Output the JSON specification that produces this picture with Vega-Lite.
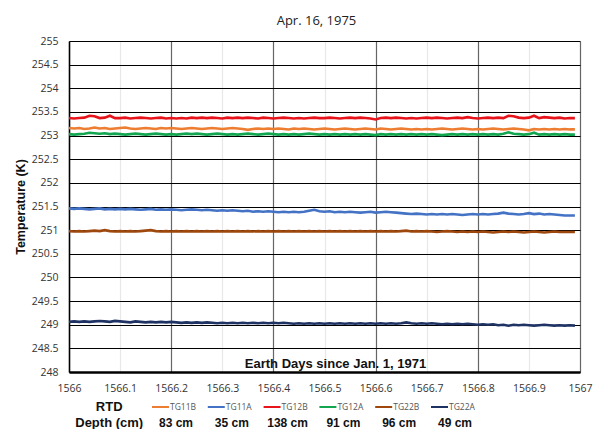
{
"$schema":"https://vega.github.io/schema/vega-lite/v6.json",
"autosize":{"type":"pad"},
"padding":{"left":14,"top":15,"right":0,"bottom":0},
"background":"white",
"bounds":"flush",
"spacing":27,
"config":{"view":{"stroke":null},"font":"Open Sans"},
"datasets":{
"TG12B":[{"x":1566,"t":253.37},{"x":1566.01,"t":253.36},{"x":1566.02,"t":253.37},{"x":1566.03,"t":253.38},{"x":1566.04,"t":253.42},{"x":1566.05,"t":253.41},{"x":1566.06,"t":253.37},{"x":1566.07,"t":253.38},{"x":1566.08,"t":253.42},{"x":1566.09,"t":253.37},{"x":1566.1,"t":253.37},{"x":1566.11,"t":253.38},{"x":1566.12,"t":253.36},{"x":1566.13,"t":253.37},{"x":1566.14,"t":253.38},{"x":1566.15,"t":253.37},{"x":1566.16,"t":253.36},{"x":1566.17,"t":253.37},{"x":1566.18,"t":253.38},{"x":1566.19,"t":253.36},{"x":1566.2,"t":253.37},{"x":1566.21,"t":253.36},{"x":1566.22,"t":253.37},{"x":1566.23,"t":253.36},{"x":1566.24,"t":253.38},{"x":1566.25,"t":253.37},{"x":1566.26,"t":253.38},{"x":1566.27,"t":253.37},{"x":1566.28,"t":253.38},{"x":1566.29,"t":253.37},{"x":1566.3,"t":253.36},{"x":1566.31,"t":253.38},{"x":1566.32,"t":253.37},{"x":1566.33,"t":253.38},{"x":1566.34,"t":253.37},{"x":1566.35,"t":253.38},{"x":1566.36,"t":253.37},{"x":1566.37,"t":253.36},{"x":1566.38,"t":253.38},{"x":1566.39,"t":253.37},{"x":1566.4,"t":253.36},{"x":1566.41,"t":253.37},{"x":1566.42,"t":253.38},{"x":1566.43,"t":253.37},{"x":1566.44,"t":253.36},{"x":1566.45,"t":253.37},{"x":1566.46,"t":253.36},{"x":1566.47,"t":253.37},{"x":1566.48,"t":253.38},{"x":1566.49,"t":253.37},{"x":1566.5,"t":253.37},{"x":1566.51,"t":253.38},{"x":1566.52,"t":253.37},{"x":1566.53,"t":253.36},{"x":1566.54,"t":253.37},{"x":1566.55,"t":253.38},{"x":1566.56,"t":253.37},{"x":1566.57,"t":253.38},{"x":1566.58,"t":253.37},{"x":1566.59,"t":253.36},{"x":1566.6,"t":253.34},{"x":1566.61,"t":253.37},{"x":1566.62,"t":253.38},{"x":1566.63,"t":253.37},{"x":1566.64,"t":253.38},{"x":1566.65,"t":253.37},{"x":1566.66,"t":253.36},{"x":1566.67,"t":253.37},{"x":1566.68,"t":253.36},{"x":1566.69,"t":253.37},{"x":1566.7,"t":253.38},{"x":1566.71,"t":253.37},{"x":1566.72,"t":253.38},{"x":1566.73,"t":253.37},{"x":1566.74,"t":253.36},{"x":1566.75,"t":253.37},{"x":1566.76,"t":253.38},{"x":1566.77,"t":253.37},{"x":1566.78,"t":253.39},{"x":1566.79,"t":253.37},{"x":1566.8,"t":253.36},{"x":1566.81,"t":253.37},{"x":1566.82,"t":253.38},{"x":1566.83,"t":253.37},{"x":1566.84,"t":253.38},{"x":1566.85,"t":253.37},{"x":1566.86,"t":253.42},{"x":1566.87,"t":253.41},{"x":1566.88,"t":253.38},{"x":1566.89,"t":253.37},{"x":1566.9,"t":253.38},{"x":1566.91,"t":253.42},{"x":1566.92,"t":253.37},{"x":1566.93,"t":253.39},{"x":1566.94,"t":253.38},{"x":1566.95,"t":253.37},{"x":1566.96,"t":253.38},{"x":1566.97,"t":253.36},{"x":1566.98,"t":253.37},{"x":1566.99,"t":253.37}],
"TG11B":[{"x":1566,"t":253.16},{"x":1566.01,"t":253.15},{"x":1566.02,"t":253.16},{"x":1566.03,"t":253.14},{"x":1566.04,"t":253.15},{"x":1566.05,"t":253.17},{"x":1566.06,"t":253.15},{"x":1566.07,"t":253.16},{"x":1566.08,"t":253.14},{"x":1566.09,"t":253.15},{"x":1566.1,"t":253.16},{"x":1566.11,"t":253.17},{"x":1566.12,"t":253.15},{"x":1566.13,"t":253.14},{"x":1566.14,"t":253.15},{"x":1566.15,"t":253.16},{"x":1566.16,"t":253.15},{"x":1566.17,"t":253.14},{"x":1566.18,"t":253.16},{"x":1566.19,"t":253.15},{"x":1566.2,"t":253.16},{"x":1566.21,"t":253.15},{"x":1566.22,"t":253.14},{"x":1566.23,"t":253.15},{"x":1566.24,"t":253.16},{"x":1566.25,"t":253.15},{"x":1566.26,"t":253.14},{"x":1566.27,"t":253.15},{"x":1566.28,"t":253.16},{"x":1566.29,"t":253.15},{"x":1566.3,"t":253.14},{"x":1566.31,"t":253.15},{"x":1566.32,"t":253.16},{"x":1566.33,"t":253.15},{"x":1566.34,"t":253.14},{"x":1566.35,"t":253.12},{"x":1566.36,"t":253.14},{"x":1566.37,"t":253.15},{"x":1566.38,"t":253.14},{"x":1566.39,"t":253.15},{"x":1566.4,"t":253.14},{"x":1566.41,"t":253.15},{"x":1566.42,"t":253.14},{"x":1566.43,"t":253.13},{"x":1566.44,"t":253.15},{"x":1566.45,"t":253.14},{"x":1566.46,"t":253.15},{"x":1566.47,"t":253.14},{"x":1566.48,"t":253.13},{"x":1566.49,"t":253.14},{"x":1566.5,"t":253.15},{"x":1566.51,"t":253.14},{"x":1566.52,"t":253.13},{"x":1566.53,"t":253.14},{"x":1566.54,"t":253.15},{"x":1566.55,"t":253.14},{"x":1566.56,"t":253.13},{"x":1566.57,"t":253.14},{"x":1566.58,"t":253.15},{"x":1566.59,"t":253.14},{"x":1566.6,"t":253.13},{"x":1566.61,"t":253.15},{"x":1566.62,"t":253.14},{"x":1566.63,"t":253.13},{"x":1566.64,"t":253.14},{"x":1566.65,"t":253.15},{"x":1566.66,"t":253.14},{"x":1566.67,"t":253.13},{"x":1566.68,"t":253.14},{"x":1566.69,"t":253.13},{"x":1566.7,"t":253.14},{"x":1566.71,"t":253.13},{"x":1566.72,"t":253.14},{"x":1566.73,"t":253.15},{"x":1566.74,"t":253.14},{"x":1566.75,"t":253.13},{"x":1566.76,"t":253.14},{"x":1566.77,"t":253.15},{"x":1566.78,"t":253.14},{"x":1566.79,"t":253.13},{"x":1566.8,"t":253.14},{"x":1566.81,"t":253.13},{"x":1566.82,"t":253.14},{"x":1566.83,"t":253.15},{"x":1566.84,"t":253.14},{"x":1566.85,"t":253.13},{"x":1566.86,"t":253.14},{"x":1566.87,"t":253.15},{"x":1566.88,"t":253.14},{"x":1566.89,"t":253.13},{"x":1566.9,"t":253.11},{"x":1566.91,"t":253.14},{"x":1566.92,"t":253.13},{"x":1566.93,"t":253.14},{"x":1566.94,"t":253.13},{"x":1566.95,"t":253.14},{"x":1566.96,"t":253.13},{"x":1566.97,"t":253.14},{"x":1566.98,"t":253.13},{"x":1566.99,"t":253.13}],
"TG12A":[{"x":1566,"t":253.03},{"x":1566.01,"t":253.02},{"x":1566.02,"t":253.03},{"x":1566.03,"t":253.04},{"x":1566.04,"t":253.06},{"x":1566.05,"t":253.05},{"x":1566.06,"t":253.04},{"x":1566.07,"t":253.05},{"x":1566.08,"t":253.03},{"x":1566.09,"t":253.04},{"x":1566.1,"t":253.03},{"x":1566.11,"t":253.02},{"x":1566.12,"t":253.03},{"x":1566.13,"t":253.04},{"x":1566.14,"t":253.03},{"x":1566.15,"t":253.02},{"x":1566.16,"t":253.03},{"x":1566.17,"t":253.04},{"x":1566.18,"t":253.03},{"x":1566.19,"t":253.02},{"x":1566.2,"t":253.03},{"x":1566.21,"t":253.02},{"x":1566.22,"t":253.03},{"x":1566.23,"t":253.04},{"x":1566.24,"t":253.03},{"x":1566.25,"t":253.04},{"x":1566.26,"t":253.03},{"x":1566.27,"t":253.02},{"x":1566.28,"t":253.03},{"x":1566.29,"t":253.04},{"x":1566.3,"t":253.03},{"x":1566.31,"t":253.02},{"x":1566.32,"t":253.03},{"x":1566.33,"t":253.02},{"x":1566.34,"t":253.03},{"x":1566.35,"t":253.04},{"x":1566.36,"t":253.03},{"x":1566.37,"t":253.02},{"x":1566.38,"t":253.03},{"x":1566.39,"t":253.04},{"x":1566.4,"t":253.03},{"x":1566.41,"t":253.02},{"x":1566.42,"t":253.03},{"x":1566.43,"t":253.02},{"x":1566.44,"t":253.03},{"x":1566.45,"t":253.02},{"x":1566.46,"t":253.03},{"x":1566.47,"t":253.04},{"x":1566.48,"t":253.03},{"x":1566.49,"t":253.02},{"x":1566.5,"t":253.03},{"x":1566.51,"t":253.02},{"x":1566.52,"t":253.03},{"x":1566.53,"t":253.02},{"x":1566.54,"t":253.03},{"x":1566.55,"t":253.02},{"x":1566.56,"t":253.03},{"x":1566.57,"t":253.02},{"x":1566.58,"t":253.03},{"x":1566.59,"t":253.02},{"x":1566.6,"t":253.01},{"x":1566.61,"t":253.03},{"x":1566.62,"t":253.02},{"x":1566.63,"t":253.03},{"x":1566.64,"t":253.02},{"x":1566.65,"t":253.03},{"x":1566.66,"t":253.02},{"x":1566.67,"t":253.03},{"x":1566.68,"t":253.02},{"x":1566.69,"t":253.03},{"x":1566.7,"t":253.02},{"x":1566.71,"t":253.03},{"x":1566.72,"t":253.02},{"x":1566.73,"t":253.01},{"x":1566.74,"t":253.02},{"x":1566.75,"t":253.03},{"x":1566.76,"t":253.02},{"x":1566.77,"t":253.03},{"x":1566.78,"t":253.02},{"x":1566.79,"t":253.03},{"x":1566.8,"t":253.02},{"x":1566.81,"t":253.03},{"x":1566.82,"t":253.02},{"x":1566.83,"t":253.03},{"x":1566.84,"t":253.02},{"x":1566.85,"t":253.04},{"x":1566.86,"t":253.07},{"x":1566.87,"t":253.04},{"x":1566.88,"t":253.03},{"x":1566.89,"t":253.02},{"x":1566.9,"t":253.03},{"x":1566.91,"t":253.06},{"x":1566.92,"t":253.02},{"x":1566.93,"t":253.03},{"x":1566.94,"t":253.02},{"x":1566.95,"t":253.03},{"x":1566.96,"t":253.02},{"x":1566.97,"t":253.03},{"x":1566.98,"t":253.02},{"x":1566.99,"t":253.02}],
"TG11A":[{"x":1566,"t":251.46},{"x":1566.01,"t":251.45},{"x":1566.02,"t":251.46},{"x":1566.03,"t":251.45},{"x":1566.04,"t":251.44},{"x":1566.05,"t":251.45},{"x":1566.06,"t":251.46},{"x":1566.07,"t":251.44},{"x":1566.08,"t":251.45},{"x":1566.09,"t":251.44},{"x":1566.1,"t":251.45},{"x":1566.11,"t":251.44},{"x":1566.12,"t":251.45},{"x":1566.13,"t":251.44},{"x":1566.14,"t":251.43},{"x":1566.15,"t":251.44},{"x":1566.16,"t":251.45},{"x":1566.17,"t":251.43},{"x":1566.18,"t":251.44},{"x":1566.19,"t":251.43},{"x":1566.2,"t":251.44},{"x":1566.21,"t":251.43},{"x":1566.22,"t":251.42},{"x":1566.23,"t":251.43},{"x":1566.24,"t":251.44},{"x":1566.25,"t":251.43},{"x":1566.26,"t":251.42},{"x":1566.27,"t":251.43},{"x":1566.28,"t":251.42},{"x":1566.29,"t":251.41},{"x":1566.3,"t":251.42},{"x":1566.31,"t":251.41},{"x":1566.32,"t":251.42},{"x":1566.33,"t":251.41},{"x":1566.34,"t":251.4},{"x":1566.35,"t":251.41},{"x":1566.36,"t":251.39},{"x":1566.37,"t":251.4},{"x":1566.38,"t":251.39},{"x":1566.39,"t":251.4},{"x":1566.4,"t":251.39},{"x":1566.41,"t":251.38},{"x":1566.42,"t":251.39},{"x":1566.43,"t":251.38},{"x":1566.44,"t":251.39},{"x":1566.45,"t":251.38},{"x":1566.46,"t":251.39},{"x":1566.47,"t":251.41},{"x":1566.48,"t":251.43},{"x":1566.49,"t":251.4},{"x":1566.5,"t":251.39},{"x":1566.51,"t":251.4},{"x":1566.52,"t":251.38},{"x":1566.53,"t":251.39},{"x":1566.54,"t":251.38},{"x":1566.55,"t":251.39},{"x":1566.56,"t":251.38},{"x":1566.57,"t":251.37},{"x":1566.58,"t":251.38},{"x":1566.59,"t":251.39},{"x":1566.6,"t":251.37},{"x":1566.61,"t":251.38},{"x":1566.62,"t":251.39},{"x":1566.63,"t":251.38},{"x":1566.64,"t":251.37},{"x":1566.65,"t":251.36},{"x":1566.66,"t":251.35},{"x":1566.67,"t":251.34},{"x":1566.68,"t":251.35},{"x":1566.69,"t":251.34},{"x":1566.7,"t":251.33},{"x":1566.71,"t":251.34},{"x":1566.72,"t":251.33},{"x":1566.73,"t":251.34},{"x":1566.74,"t":251.33},{"x":1566.75,"t":251.34},{"x":1566.76,"t":251.33},{"x":1566.77,"t":251.32},{"x":1566.78,"t":251.33},{"x":1566.79,"t":251.34},{"x":1566.8,"t":251.33},{"x":1566.81,"t":251.34},{"x":1566.82,"t":251.33},{"x":1566.83,"t":251.34},{"x":1566.84,"t":251.35},{"x":1566.85,"t":251.37},{"x":1566.86,"t":251.35},{"x":1566.87,"t":251.34},{"x":1566.88,"t":251.33},{"x":1566.89,"t":251.34},{"x":1566.9,"t":251.36},{"x":1566.91,"t":251.34},{"x":1566.92,"t":251.35},{"x":1566.93,"t":251.33},{"x":1566.94,"t":251.34},{"x":1566.95,"t":251.33},{"x":1566.96,"t":251.32},{"x":1566.97,"t":251.31},{"x":1566.98,"t":251.31},{"x":1566.99,"t":251.31}],
"TG22B":[{"x":1566,"t":250.98},{"x":1566.01,"t":250.97},{"x":1566.02,"t":250.98},{"x":1566.03,"t":250.97},{"x":1566.04,"t":250.98},{"x":1566.05,"t":250.99},{"x":1566.06,"t":250.98},{"x":1566.07,"t":251},{"x":1566.08,"t":250.98},{"x":1566.09,"t":250.97},{"x":1566.1,"t":250.98},{"x":1566.11,"t":250.97},{"x":1566.12,"t":250.98},{"x":1566.13,"t":250.97},{"x":1566.14,"t":250.98},{"x":1566.15,"t":250.99},{"x":1566.16,"t":251},{"x":1566.17,"t":250.98},{"x":1566.18,"t":250.97},{"x":1566.19,"t":250.98},{"x":1566.2,"t":250.97},{"x":1566.21,"t":250.98},{"x":1566.22,"t":250.97},{"x":1566.23,"t":250.98},{"x":1566.24,"t":250.97},{"x":1566.25,"t":250.98},{"x":1566.26,"t":250.97},{"x":1566.27,"t":250.98},{"x":1566.28,"t":250.97},{"x":1566.29,"t":250.98},{"x":1566.3,"t":250.97},{"x":1566.31,"t":250.98},{"x":1566.32,"t":250.97},{"x":1566.33,"t":250.98},{"x":1566.34,"t":250.97},{"x":1566.35,"t":250.98},{"x":1566.36,"t":250.97},{"x":1566.37,"t":250.98},{"x":1566.38,"t":250.97},{"x":1566.39,"t":250.98},{"x":1566.4,"t":250.97},{"x":1566.41,"t":250.98},{"x":1566.42,"t":250.97},{"x":1566.43,"t":250.98},{"x":1566.44,"t":250.97},{"x":1566.45,"t":250.98},{"x":1566.46,"t":250.97},{"x":1566.47,"t":250.98},{"x":1566.48,"t":250.97},{"x":1566.49,"t":250.98},{"x":1566.5,"t":250.97},{"x":1566.51,"t":250.98},{"x":1566.52,"t":250.97},{"x":1566.53,"t":250.98},{"x":1566.54,"t":250.97},{"x":1566.55,"t":250.98},{"x":1566.56,"t":250.97},{"x":1566.57,"t":250.98},{"x":1566.58,"t":250.97},{"x":1566.59,"t":250.98},{"x":1566.6,"t":250.97},{"x":1566.61,"t":250.98},{"x":1566.62,"t":250.97},{"x":1566.63,"t":250.98},{"x":1566.64,"t":250.97},{"x":1566.65,"t":250.98},{"x":1566.66,"t":250.99},{"x":1566.67,"t":250.97},{"x":1566.68,"t":250.98},{"x":1566.69,"t":250.97},{"x":1566.7,"t":250.98},{"x":1566.71,"t":250.97},{"x":1566.72,"t":250.96},{"x":1566.73,"t":250.97},{"x":1566.74,"t":250.98},{"x":1566.75,"t":250.97},{"x":1566.76,"t":250.96},{"x":1566.77,"t":250.97},{"x":1566.78,"t":250.96},{"x":1566.79,"t":250.97},{"x":1566.8,"t":250.96},{"x":1566.81,"t":250.97},{"x":1566.82,"t":250.96},{"x":1566.83,"t":250.95},{"x":1566.84,"t":250.96},{"x":1566.85,"t":250.97},{"x":1566.86,"t":250.96},{"x":1566.87,"t":250.97},{"x":1566.88,"t":250.96},{"x":1566.89,"t":250.95},{"x":1566.9,"t":250.96},{"x":1566.91,"t":250.97},{"x":1566.92,"t":250.96},{"x":1566.93,"t":250.95},{"x":1566.94,"t":250.96},{"x":1566.95,"t":250.97},{"x":1566.96,"t":250.96},{"x":1566.97,"t":250.96},{"x":1566.98,"t":250.96},{"x":1566.99,"t":250.96}],
"TG22A":[{"x":1566,"t":249.06},{"x":1566.01,"t":249.07},{"x":1566.02,"t":249.06},{"x":1566.03,"t":249.07},{"x":1566.04,"t":249.06},{"x":1566.05,"t":249.07},{"x":1566.06,"t":249.08},{"x":1566.07,"t":249.07},{"x":1566.08,"t":249.06},{"x":1566.09,"t":249.08},{"x":1566.1,"t":249.07},{"x":1566.11,"t":249.06},{"x":1566.12,"t":249.05},{"x":1566.13,"t":249.07},{"x":1566.14,"t":249.06},{"x":1566.15,"t":249.05},{"x":1566.16,"t":249.06},{"x":1566.17,"t":249.05},{"x":1566.18,"t":249.06},{"x":1566.19,"t":249.05},{"x":1566.2,"t":249.06},{"x":1566.21,"t":249.05},{"x":1566.22,"t":249.04},{"x":1566.23,"t":249.05},{"x":1566.24,"t":249.04},{"x":1566.25,"t":249.05},{"x":1566.26,"t":249.04},{"x":1566.27,"t":249.05},{"x":1566.28,"t":249.04},{"x":1566.29,"t":249.03},{"x":1566.3,"t":249.04},{"x":1566.31,"t":249.03},{"x":1566.32,"t":249.04},{"x":1566.33,"t":249.03},{"x":1566.34,"t":249.04},{"x":1566.35,"t":249.03},{"x":1566.36,"t":249.04},{"x":1566.37,"t":249.03},{"x":1566.38,"t":249.04},{"x":1566.39,"t":249.03},{"x":1566.4,"t":249.04},{"x":1566.41,"t":249.03},{"x":1566.42,"t":249.04},{"x":1566.43,"t":249.03},{"x":1566.44,"t":249.02},{"x":1566.45,"t":249.03},{"x":1566.46,"t":249.02},{"x":1566.47,"t":249.03},{"x":1566.48,"t":249.02},{"x":1566.49,"t":249.03},{"x":1566.5,"t":249.02},{"x":1566.51,"t":249.03},{"x":1566.52,"t":249.02},{"x":1566.53,"t":249.03},{"x":1566.54,"t":249.02},{"x":1566.55,"t":249.03},{"x":1566.56,"t":249.02},{"x":1566.57,"t":249.03},{"x":1566.58,"t":249.02},{"x":1566.59,"t":249.03},{"x":1566.6,"t":249.02},{"x":1566.61,"t":249.03},{"x":1566.62,"t":249.02},{"x":1566.63,"t":249.03},{"x":1566.64,"t":249.02},{"x":1566.65,"t":249.03},{"x":1566.66,"t":249.05},{"x":1566.67,"t":249.03},{"x":1566.68,"t":249.02},{"x":1566.69,"t":249.03},{"x":1566.7,"t":249.02},{"x":1566.71,"t":249.03},{"x":1566.72,"t":249.02},{"x":1566.73,"t":249.01},{"x":1566.74,"t":249.02},{"x":1566.75,"t":249.01},{"x":1566.76,"t":249.02},{"x":1566.77,"t":249.01},{"x":1566.78,"t":249.02},{"x":1566.79,"t":249.01},{"x":1566.8,"t":249},{"x":1566.81,"t":249.01},{"x":1566.82,"t":249},{"x":1566.83,"t":249.01},{"x":1566.84,"t":248.99},{"x":1566.85,"t":249},{"x":1566.86,"t":248.98},{"x":1566.87,"t":249},{"x":1566.88,"t":248.99},{"x":1566.89,"t":249},{"x":1566.9,"t":248.99},{"x":1566.91,"t":248.98},{"x":1566.92,"t":248.99},{"x":1566.93,"t":249},{"x":1566.94,"t":248.99},{"x":1566.95,"t":248.98},{"x":1566.96,"t":248.99},{"x":1566.97,"t":248.98},{"x":1566.98,"t":248.99},{"x":1566.99,"t":248.98}],
"leg":[{"k":1,"s":"TG11B","d":"83 cm"},{"k":2,"s":"TG11A","d":"35 cm"},{"k":3,"s":"TG12B","d":"138 cm"},{"k":4,"s":"TG12A","d":"91 cm"},{"k":5,"s":"TG22B","d":"96 cm"},{"k":6,"s":"TG22A","d":"49 cm"}],
"hdr":[{"k":0,"r":"RTD"},{"k":0,"r":"Depth (cm)"}]
},
"vconcat":[
{
"width":511,"height":331,
"title":{"text":"Apr. 16, 1975","fontSize":13,"font":"Open Sans","fontWeight":"normal","color":"#222","offset":8,"frame":"group","dx":-8},
"encoding":{
"x":{"field":"x","type":"quantitative","scale":{"domain":[1566,1567],"nice":false,"zero":false},
"axis":{"values":[1566,1566.1,1566.2,1566.3,1566.4,1566.5,1566.6,1566.7,1566.8,1566.9,1567],"format":".1~f","title":"Earth Days since Jan. 1, 1971","titleFont":"Liberation Sans","titleFontWeight":"bold","titleFontSize":13,"titleColor":"#111","titleY":-2,"titleBaseline":"bottom","titleX":266,"labelFont":"Open Sans","labelFontSize":10.5,"labelColor":"#333","labelPadding":11,"ticks":false,"domainColor":"#000","domainWidth":2.5,"grid":true,"gridColor":{"condition":{"test":"round(datum.value*10)%2==0","value":"#666"},"value":"#e8e8e8"},"gridWidth":1.2,"labelFlush":false,"labelOverlap":false}},
"y":{"field":"t","type":"quantitative","scale":{"domain":[248,255],"nice":false,"zero":false},
"axis":{"values":[248,248.5,249,249.5,250,250.5,251,251.5,252,252.5,253,253.5,254,254.5,255],"format":".1~f","title":"Temperature (K)","titleFont":"Liberation Sans","titleFontWeight":"bold","titleFontSize":12.5,"titleColor":"#111","titlePadding":4,"labelFont":"Open Sans","labelFontSize":10.5,"labelColor":"#333","labelPadding":11,"ticks":false,"domainColor":"#000","domainWidth":1.5,"grid":true,"gridColor":"#000","gridWidth":1,"labelOverlap":false}}
},
"layer":[
{"data":{"name":"TG11B"},"mark":{"type":"line","color":"#ED7D31","strokeWidth":2.6}},
{"data":{"name":"TG11A"},"mark":{"type":"line","color":"#4472C4","strokeWidth":2.6}},
{"data":{"name":"TG12B"},"mark":{"type":"line","color":"#E8141B","strokeWidth":2.6}},
{"data":{"name":"TG12A"},"mark":{"type":"line","color":"#13A650","strokeWidth":2.6}},
{"data":{"name":"TG22B"},"mark":{"type":"line","color":"#9E480E","strokeWidth":2.6}},
{"data":{"name":"TG22A"},"mark":{"type":"line","color":"#1F3264","strokeWidth":2.6}}
]
},
{
"width":511,"height":32,
"layer":[
{"data":{"name":"leg"},"mark":{"type":"point","shape":"stroke","size":289,"strokeWidth":2,"xOffset":8.5,"opacity":1},
"encoding":{"x":{"field":"k","type":"quantitative","scale":{"domain":[-0.487,8.67],"nice":false,"zero":false},"axis":null},
"y":{"datum":"RTD","type":"nominal","scale":{"type":"band","domain":["RTD","Depth (cm)"],"paddingInner":0,"paddingOuter":0},"axis":null},
"color":{"field":"s","type":"nominal","scale":{"domain":["TG11B","TG11A","TG12B","TG12A","TG22B","TG22A"],"range":["#ED7D31","#4472C4","#E8141B","#13A650","#9E480E","#1F3264"]},"legend":null}}},
{"data":{"name":"leg"},"mark":{"type":"text","align":"left","baseline":"middle","xOffset":18,"fontSize":8.5,"font":"Open Sans","color":"#555"},
"encoding":{"x":{"field":"k","type":"quantitative"},"y":{"datum":"RTD","type":"nominal"},"text":{"field":"s"}}},
{"data":{"name":"leg"},"mark":{"type":"text","align":"center","baseline":"middle","xOffset":24,"fontSize":12,"font":"Liberation Sans","fontWeight":"bold","color":"#111"},
"encoding":{"x":{"field":"k","type":"quantitative"},"y":{"datum":"Depth (cm)","type":"nominal"},"text":{"field":"d"}}},
{"data":{"name":"hdr"},"mark":{"type":"text","align":"center","baseline":"middle","xOffset":13,"fontSize":13,"font":"Liberation Sans","fontWeight":"bold","color":"#111"},
"encoding":{"x":{"field":"k","type":"quantitative"},"y":{"field":"r","type":"nominal"},"text":{"field":"r"}}}
]
}
]
}
